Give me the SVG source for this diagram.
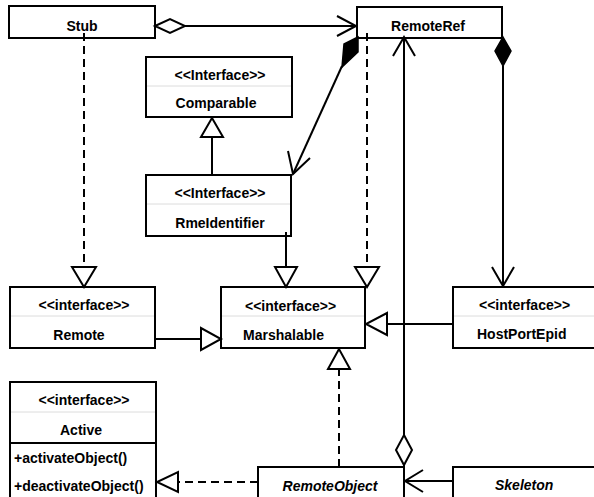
<svg xmlns="http://www.w3.org/2000/svg" width="594" height="497" viewBox="0 0 594 497">
<style>
.box{fill:#fff;stroke:#000;stroke-width:2}
.div{stroke:#dcdcdc;stroke-width:1}
.sep{stroke:#000;stroke-width:2}
.t{font-family:"Liberation Sans",Arial,sans-serif;font-size:14px;font-weight:bold;fill:#000}
.c{text-anchor:middle}
.it{font-family:"Liberation Sans",Arial,sans-serif;font-size:14px;font-weight:bold;font-style:italic;fill:#000}
.ln{fill:none;stroke:#000;stroke-width:2}
.dash{stroke-dasharray:8,5}
.tri{fill:#fff;stroke:#000;stroke-width:2}
.fill{fill:#000;stroke:#000;stroke-width:1.5}
</style>
<rect width="594" height="497" fill="#fff"/>
<g id="Stub">
<rect class="box" x="9" y="6" width="146" height="32"/>
<text class="t c" x="82" y="31">Stub</text>
</g>
<g id="RemoteRef">
<rect class="box" x="357" y="7" width="145" height="31"/>
<text class="t c" x="428" y="31">RemoteRef</text>
</g>
<g id="Comparable">
<rect class="box" x="146" y="57" width="146" height="60"/>
<line class="div" x1="147" y1="86" x2="291" y2="86"/>
<text class="t c" x="220" y="80">&lt;&lt;Interface&gt;&gt;</text>
<text class="t c" x="216" y="108">Comparable</text>
</g>
<g id="RmeIdentifier">
<rect class="box" x="146" y="175" width="145" height="61"/>
<line class="div" x1="147" y1="204" x2="290" y2="204"/>
<text class="t c" x="220" y="198">&lt;&lt;Interface&gt;&gt;</text>
<text class="t c" x="220" y="228">RmeIdentifier</text>
</g>
<g id="Remote">
<rect class="box" x="10" y="287" width="145" height="61"/>
<line class="div" x1="11" y1="316" x2="154" y2="316"/>
<text class="t c" x="84" y="310">&lt;&lt;interface&gt;&gt;</text>
<text class="t c" x="79" y="340">Remote</text>
</g>
<g id="Marshalable">
<rect class="box" x="221" y="287" width="144" height="61"/>
<line class="div" x1="222" y1="316" x2="364" y2="316"/>
<text class="t" x="245" y="311">&lt;&lt;interface&gt;&gt;</text>
<text class="t" x="243" y="340">Marshalable</text>
</g>
<g id="HostPortEpid">
<rect class="box" x="453" y="287" width="150" height="61"/>
<line class="div" x1="454" y1="316" x2="594" y2="316"/>
<text class="t" x="479" y="310">&lt;&lt;interface&gt;&gt;</text>
<text class="t" x="477" y="339">HostPortEpid</text>
</g>
<g id="Active">
<rect class="box" x="10" y="382" width="146" height="130"/>
<line class="div" x1="11" y1="412" x2="155" y2="412"/>
<line class="sep" x1="10" y1="443" x2="156" y2="443"/>
<text class="t c" x="84" y="405">&lt;&lt;interface&gt;&gt;</text>
<text class="t c" x="81" y="435">Active</text>
<text class="t" x="14" y="463">+activateObject()</text>
<text class="t" x="14" y="491">+deactivateObject()</text>
</g>
<g id="RemoteObject">
<rect class="box" x="258" y="467" width="146" height="45"/>
<text class="it c" x="330" y="491">RemoteObject</text>
</g>
<g id="Skeleton">
<rect class="box" x="453" y="467" width="150" height="45"/>
<text class="it" x="495" y="490">Skeleton</text>
</g>
<g id="connectors">
<polygon class="tri" points="155,26 170,19 185,26 170,33"/>
<line class="ln" x1="185" y1="26" x2="356" y2="26"/>
<polyline class="ln" points="337,16 356,26 337,36"/>
<line class="ln dash" x1="84" y1="33" x2="84" y2="267"/>
<polygon class="tri" points="72,267 96,267 84,287"/>
<polygon class="fill" points="358,37 344,44 342,67 358,52"/>
<line class="ln" x1="342" y1="66" x2="293" y2="174"/>
<polyline class="ln" points="288,151 293,174 310,158"/>
<line class="ln dash" x1="367" y1="33" x2="367" y2="267"/>
<polygon class="tri" points="355,267 379,267 367,287"/>
<line class="ln" x1="404" y1="37" x2="404" y2="435"/>
<polyline class="ln" points="393,56 404,37 415,56"/>
<polygon class="tri" points="404,435 412,450 404,465 396,450"/>
<line class="ln" x1="404" y1="465" x2="404" y2="467"/>
<polygon class="fill" points="503,37 511,51 503,66 495,51"/>
<line class="ln" x1="503" y1="66" x2="503" y2="286"/>
<polyline class="ln" points="492,267 503,286 514,267"/>
<line class="ln" x1="212" y1="175" x2="212" y2="137"/>
<polygon class="tri" points="201,137 223,137 212,118"/>
<line class="ln" x1="286" y1="232" x2="286" y2="267"/>
<polygon class="tri" points="275,267 297,267 286,287"/>
<line class="ln" x1="155" y1="339" x2="201" y2="339"/>
<polygon class="tri" points="201,328 201,350 221,339"/>
<line class="ln" x1="453" y1="324" x2="387" y2="324"/>
<polygon class="tri" points="387,313 387,335 366,324"/>
<line class="ln dash" x1="339" y1="467" x2="339" y2="369"/>
<polygon class="tri" points="328,369 350,369 339,349"/>
<line class="ln dash" x1="258" y1="482" x2="178" y2="482"/>
<polygon class="tri" points="178,472 178,492 157,482"/>
<line class="ln" x1="453" y1="481" x2="405" y2="481"/>
<polyline class="ln" points="423,470 405,481 423,492"/>
</g>
</svg>
